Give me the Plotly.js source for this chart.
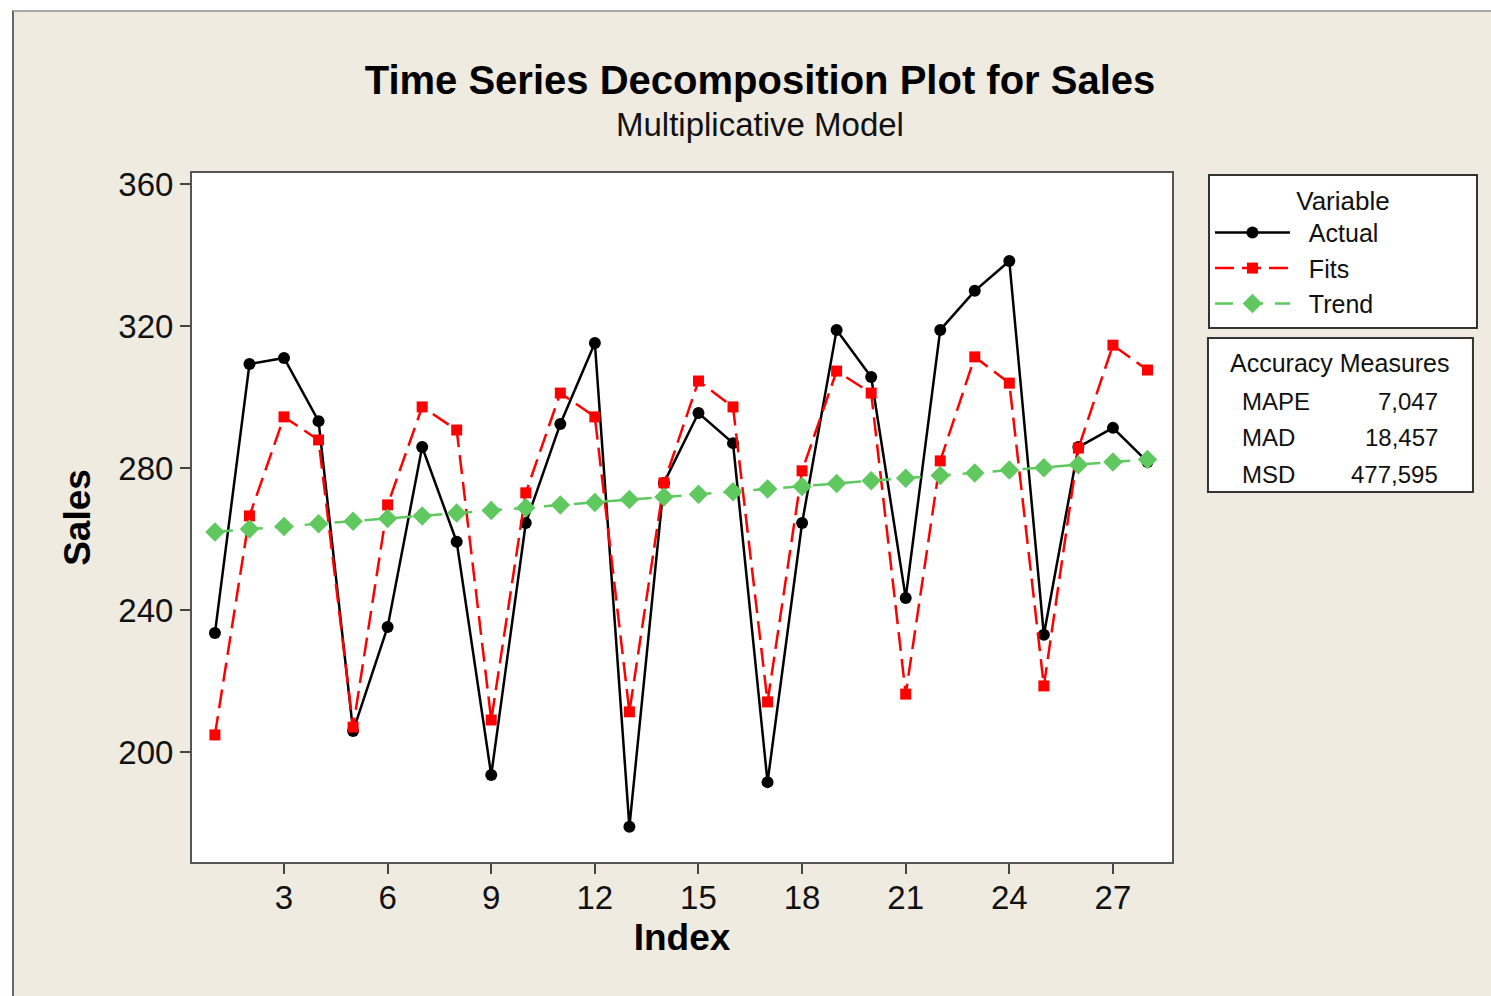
<!DOCTYPE html>
<html>
<head>
<meta charset="utf-8">
<script src="https://cdn.plot.ly/plotly-3.0.1.min.js"></script>
<style>
  html, body { margin: 0; padding: 0; background: #ffffff; width: 1491px; height: 996px; overflow: hidden; }
  #frame { position: absolute; left: 12px; top: 10px; width: 1479px; height: 986px; background: #EFEBE1;
           border-left: 2px solid #666; border-top: 2px solid #a8a8a8; box-sizing: border-box; }
  #plot { width: 1477px; height: 984px; }
</style>
</head>
<body>
<div id="frame"><div id="plot"></div></div>
<script>
// ---- data ----
const index = [1,2,3,4,5,6,7,8,9,10,11,12,13,14,15,16,17,18,19,20,21,22,23,24,25,26,27,28];
const actual = [233.5,309.3,311.0,293.2,205.9,235.2,285.9,259.2,193.5,264.5,292.4,315.2,178.9,275.8,
                295.5,287.0,191.5,264.5,318.9,305.6,243.4,318.9,329.9,338.3,233.0,285.9,291.3,281.7];
const fits = [204.8,266.5,294.4,287.9,207.0,269.6,297.2,290.7,209.0,273.0,301.1,294.4,211.3,275.8,
              304.5,297.2,214.1,279.2,307.3,301.1,216.3,282.0,311.3,303.9,218.6,285.6,314.6,307.6];
const trend = [262.0,262.8,263.5,264.3,265.0,265.8,266.5,267.3,268.0,268.8,269.6,270.3,271.1,271.8,
               272.6,273.3,274.1,274.8,275.6,276.4,277.1,277.9,278.6,279.4,280.1,280.9,281.7,282.4];
const seriesNames = ["Actual","Fits","Trend"];
const xTicks = [3,6,9,12,15,18,21,24,27];
const yTicks = [200,240,280,320,360];
const measureNames = ["MAPE","MAD","MSD"];
const measureValues = ["7,047","18,457","477,595"];

const SANS = "Liberation Sans, Arial, sans-serif";
const NB = "\u00a0";
// legend entry labels padded with non-breaking spaces so the box has the reference's width
const legendLabel = (s) => NB + NB + s + NB.repeat(Math.max(0, 19 - s.length));

const traces = [
  { x: index, y: actual, name: legendLabel(seriesNames[0]), type: "scatter", mode: "lines+markers",
    line: { color: "#000000", width: 2.5 },
    marker: { symbol: "circle", size: 12, color: "#000000" } },
  { x: index, y: fits, name: legendLabel(seriesNames[1]), type: "scatter", mode: "lines+markers",
    line: { color: "#FF0000", width: 2.5, dash: "19px,8px" },
    marker: { symbol: "square", size: 11, color: "#FF0000" } },
  { x: index, y: trend, name: legendLabel(seriesNames[2]), type: "scatter", mode: "lines+markers",
    line: { color: "#5FC85F", width: 2.5, dash: "18px,12px" },
    marker: { symbol: "diamond", size: 15, color: "#5FC85F" } }
];

const annotations = [
  { text: "Multiplicative Model", xref: "paper", yref: "paper", x: 0.5796, y: 1.0697,
    xanchor: "center", yanchor: "middle", showarrow: false,
    font: { family: SANS, size: 33, color: "#111" } },
  { text: "Accuracy Measures", xref: "paper", yref: "paper", x: 1.1714, y: 0.7242,
    xanchor: "center", yanchor: "middle", showarrow: false,
    font: { family: SANS, size: 25, color: "#111" } }
];
const rowY = [0.669, 0.6168, 0.5631];
measureNames.forEach((n, i) => {
  annotations.push({ text: n, xref: "paper", yref: "paper", x: 1.0694, y: rowY[i],
    xanchor: "left", yanchor: "middle", showarrow: false,
    font: { family: SANS, size: 24, color: "#111" } });
  annotations.push({ text: measureValues[i], xref: "paper", yref: "paper", x: 1.2735, y: rowY[i],
    xanchor: "right", yanchor: "middle", showarrow: false,
    font: { family: SANS, size: 24, color: "#111" } });
});

const layout = {
  width: 1477, height: 984,
  paper_bgcolor: "#EFEBE1", plot_bgcolor: "#ffffff",
  margin: { l: 178, r: 319, t: 161, b: 134 },
  title: { text: "<b>Time Series Decomposition Plot for Sales</b>", xref: "container", yref: "container",
           x: 746/1477, y: 1 - 68/984, xanchor: "center", yanchor: "middle",
           font: { family: SANS, size: 40, color: "#000" } },
  xaxis: { range: [0.336, 28.71], tickvals: xTicks, ticktext: xTicks.map(String),
           ticks: "outside", ticklen: 10, tickwidth: 2, tickcolor: "#444", ticklabelstandoff: -5,
           showgrid: false, zeroline: false, showline: true, linecolor: "#555", linewidth: 2, mirror: true,
           tickfont: { family: SANS, size: 33, color: "#111" },
           title: { text: "<b>Index</b>", standoff: 10, font: { family: SANS, size: 37, color: "#000" } } },
  yaxis: { range: [169.0, 363.1], tickvals: yTicks, ticktext: yTicks.map(String),
           ticks: "outside", ticklen: 10, tickwidth: 2, tickcolor: "#444",
           showgrid: false, zeroline: false, showline: true, linecolor: "#555", linewidth: 2, mirror: true,
           tickfont: { family: SANS, size: 33, color: "#111" },
           title: { text: "<b>Sales</b>", standoff: 16, font: { family: SANS, size: 37, color: "#000" } } },
  showlegend: true,
  legend: { x: 1.0367, y: 0.9985, xanchor: "left", yanchor: "top",
            bgcolor: "#ffffff", bordercolor: "#333", borderwidth: 2,
            itemwidth: 75, tracegroupgap: 0,
            title: { text: "Variable", side: "top center", font: { family: SANS, size: 26, color: "#111" } },
            font: { family: SANS, size: 25, color: "#111" } },
  shapes: [
    { type: "rect", xref: "paper", yref: "paper", x0: 1.0367, x1: 1.3071, y0: 0.537, y1: 0.7605,
      line: { color: "#333", width: 2 }, fillcolor: "#ffffff", layer: "below" }
  ],
  annotations: annotations
};

Plotly.newPlot("plot", traces, layout, { displayModeBar: false, staticPlot: true });
</script>
</body>
</html>
